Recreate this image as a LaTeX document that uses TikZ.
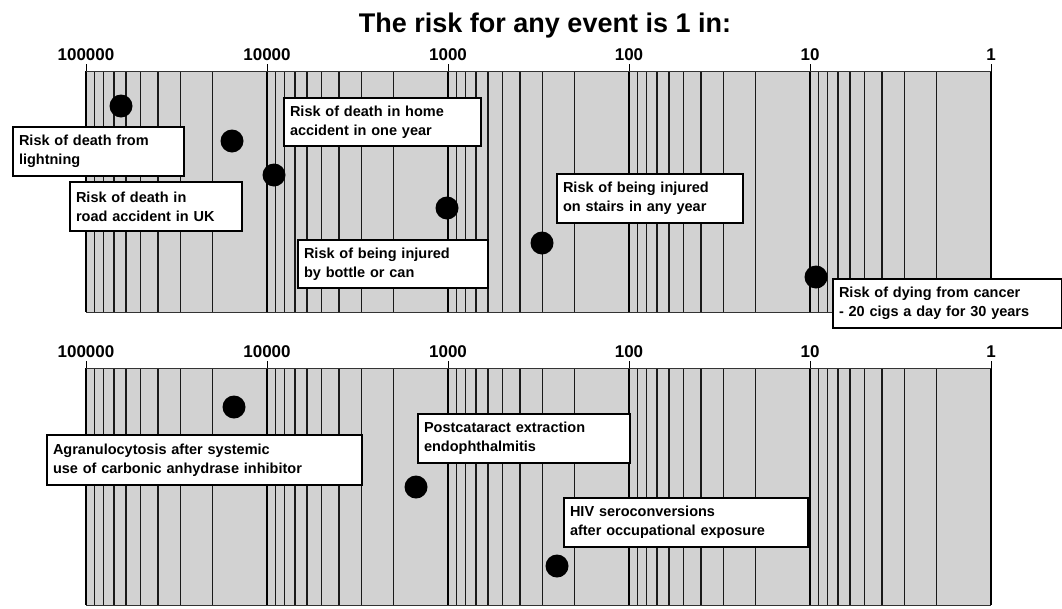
\documentclass[tikz,border=0pt]{standalone}
\usepackage{fontspec}
\setmainfont{Liberation Sans}
\definecolor{panelgray}{RGB}{210,210,210}
\tikzset{
  minorline/.style={draw=black!90, line width=1.4pt},
  majorline/.style={draw=black, line width=2.6pt},
  tickline/.style={draw=black, line width=1pt},
  edgeline/.style={draw=black!80, line width=1pt},
  dot/.style={circle, fill=black, inner sep=0pt, minimum size=23pt},
  box/.style={draw=black, line width=2pt, fill=white, anchor=north west, align=left,
    inner xsep=6pt, inner ysep=0pt, font=\fontsize{14.5}{19}\selectfont\bfseries},
  declabel/.style={font=\fontsize{17}{20}\selectfont\bfseries, anchor=base},
}
\begin{document}
\begin{tikzpicture}[x=1pt,y=-1pt]
\useasboundingbox (0,0) rectangle (1062,608);
\node[font=\fontsize{27}{30}\selectfont\bfseries, anchor=base] (title) at (545,32) {The risk for any event is 1 in:};
\foreach \t/\b/\n in {71/312/top,368/605/bot}{
  \fill[panelgray] (86,\t) rectangle (991,\b);
  \foreach \k in {0,...,4}{
    \foreach \m in {2,...,9}{
      \draw[minorline] ({86+181*(\k+1-log10(\m))},\t) -- ({86+181*(\k+1-log10(\m))},\b);
    }
  }
  \foreach \k/\lab in {0/100000,1/10000,2/1000,3/100,4/10,5/1}{
    \draw[majorline] ({86+181*\k},\t) -- ({86+181*\k},\b);
    \draw[tickline] ({86+181*\k},\t) -- ({86+181*\k},\t-7);
    \node[declabel] (\n-lab\k) at ({86+181*\k},\t-11) {\lab};
  }
  \draw[edgeline] (86,\t) -- (991,\t);
  \draw[edgeline] (86,\b) -- (991,\b);
}
% top panel dots
\node[dot] (d1) at (121,106) {};
\node[dot] (d2) at (232,141) {};
\node[dot] (d3) at (274,175) {};
\node[dot] (d4) at (447,208) {};
\node[dot] (d5) at (542,243) {};
\node[dot] (d6) at (816,277) {};
% top panel boxes
\node[box, text width=159pt, minimum height=49pt] (b1) at (12,126) {Risk of death from\\lightning};
\node[box, text width=160pt, minimum height=49pt] (b2) at (69,181) {Risk of death in\\road accident in UK};
\node[box, text width=185pt, minimum height=48pt] (b3) at (283,97) {Risk of death in home\\accident in one year};
\node[box, text width=178pt, minimum height=48pt] (b4) at (297,239) {Risk of being injured\\by bottle or can};
\node[box, text width=174pt, minimum height=49pt] (b5) at (556,173) {Risk of being injured\\on stairs in any year};
\node[box, text width=217pt, minimum height=49pt] (b6) at (832,278) {Risk of dying from cancer\\- 20 cigs a day for 30 years};
% bottom panel dots
\node[dot] (e1) at (234,407) {};
\node[dot] (e2) at (416,487) {};
\node[dot] (e3) at (557,566) {};
% bottom panel boxes
\node[box, text width=303pt, minimum height=50pt] (c1) at (46,434) {Agranulocytosis after systemic\\use of carbonic anhydrase inhibitor};
\node[box, text width=200pt, minimum height=49pt] (c2) at (417,413) {Postcataract extraction\\endophthalmitis};
\node[box, text width=232pt, minimum height=49pt] (c3) at (563,497) {HIV seroconversions\\after occupational exposure};
\end{tikzpicture}
\end{document}
